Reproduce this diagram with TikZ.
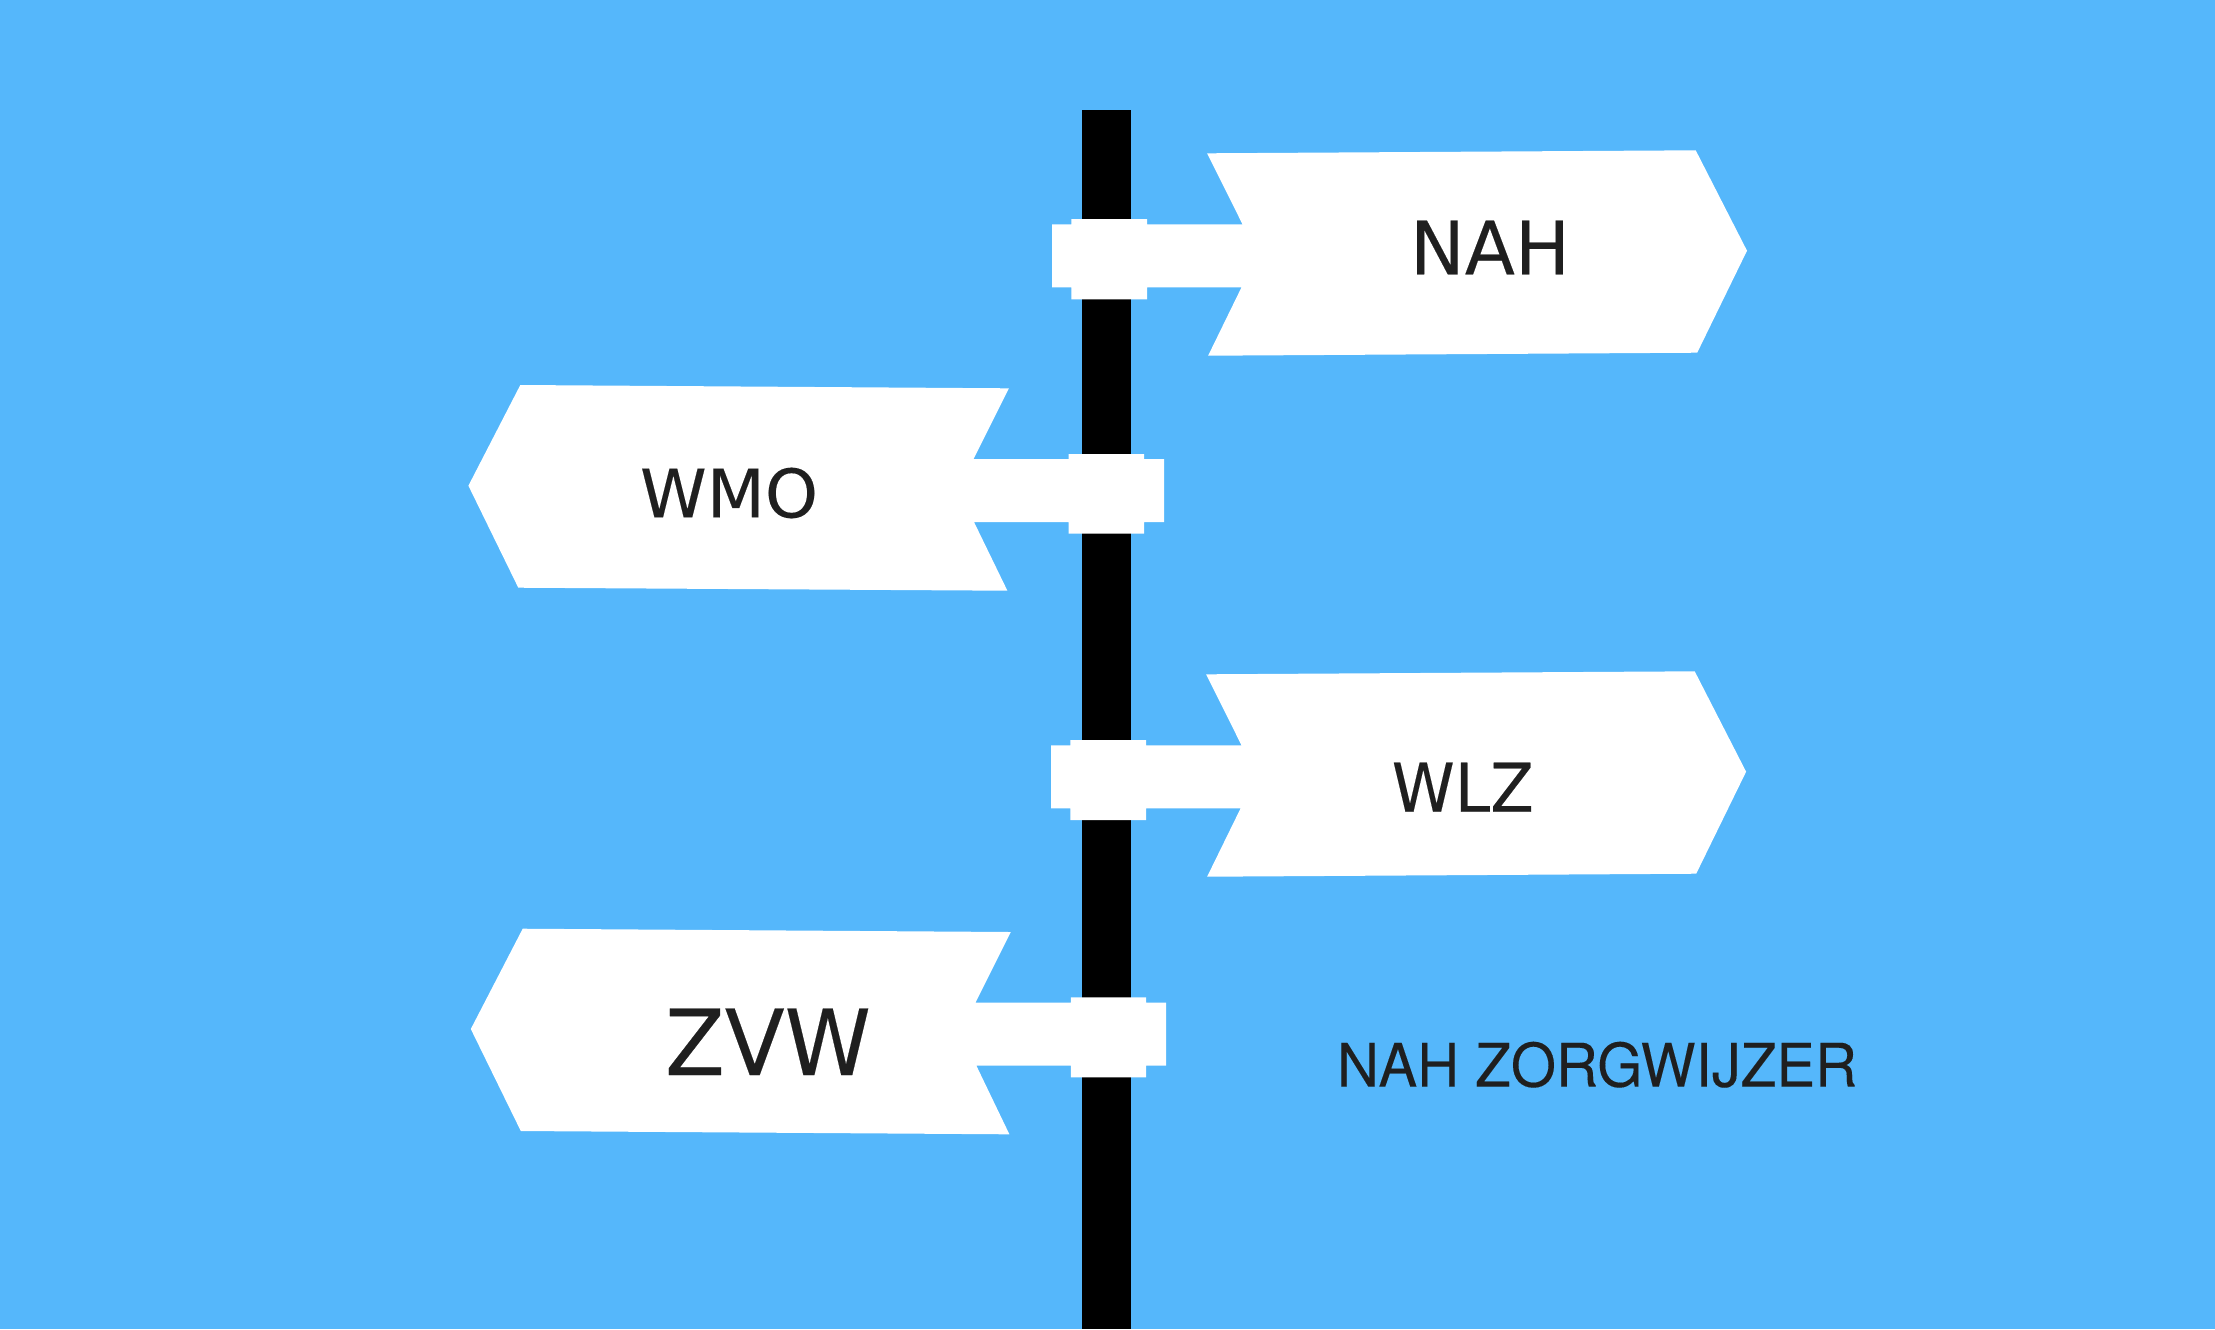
\documentclass[tikz,border=0pt]{standalone}
\usepackage{fontspec}
\usepackage{graphicx}
\setmainfont[FakeBold=0.25]{DejaVu Sans}
\newfontfamily\capfont[FakeBold=0.15]{TeX Gyre Heros}
\definecolor{skyback}{HTML}{55B7FB}
\definecolor{inkdark}{HTML}{1F1F1F}
\newcommand{\fitlabel}[3]{\resizebox*{#1pt}{#2pt}{#3}}
\tikzset{
  signshape/.style={fill=white,draw=none},
  signtext/.style={text=inkdark,inner sep=0pt,outer sep=0pt,anchor=center},
  polebar/.style={fill=black,draw=none}
}
\begin{document}
\begin{tikzpicture}[x=0.5pt,y=-0.5pt]
\useasboundingbox (0,0) rectangle (2215,1329);
\fill[skyback] (0,0) rectangle (2215,1329);
\fill[polebar] (1082,110) rectangle (1131,1329);
% NAH
\fill[signshape] (1207.1,153.3) -- (1695.7,150.3) -- (1747,250.7) -- (1697.2,352.7) -- (1208.1,355.7) -- (1241.5,287.3)
  -- (1147,287.3) -- (1147,299.3) -- (1071.4,299.3) -- (1071.4,287.3) -- (1052,287.3) -- (1052,224.3) -- (1071.4,224.3)
  -- (1071.4,219) -- (1147,219) -- (1147,224.3) -- (1242.5,224.3) -- cycle;
% WMO
\fill[signshape] (520.3,385) -- (1008.9,388.3) -- (973.5,459) -- (1068.5,459) -- (1068.5,454) -- (1144.1,454) -- (1144.1,459)
  -- (1164,459) -- (1164,522) -- (1144.1,522) -- (1144.1,533.7) -- (1068.5,533.7) -- (1068.5,522) -- (974,522)
  -- (1007.4,590.7) -- (518.3,587.7) -- (468.4,485.7) -- cycle;
% WLZ
\fill[signshape] (1206.1,674.3) -- (1694.7,671.3) -- (1746.1,771.7) -- (1696.2,873.7) -- (1207.1,876.7) -- (1240.6,808.3)
  -- (1146,808.3) -- (1146,820) -- (1070.4,820) -- (1070.4,808.3) -- (1051,808.3) -- (1051,745.3) -- (1070.4,745.3)
  -- (1070.4,740) -- (1146,740) -- (1146,745.3) -- (1241.5,745.3) -- cycle;
% ZVW
\fill[signshape] (522.7,928.7) -- (1010.8,932) -- (975.5,1002.7) -- (1070.9,1002.7) -- (1070.9,997.3) -- (1146,997.3) -- (1146,1002.7)
  -- (1166,1002.7) -- (1166,1065.7) -- (1146,1065.7) -- (1146,1077.3) -- (1070.9,1077.3) -- (1070.9,1065.7) -- (976.4,1065.7)
  -- (1009.4,1134.3) -- (520.8,1131) -- (470.8,1029) -- cycle;
\node[signtext] (nah) at (1490,247.5) {\fitlabel{80}{26.8}{NAH}};
\node[signtext] (wmo) at (729,493) {\fitlabel{89}{25.3}{WMO}};
\node[signtext] (wlz) at (1462.8,787.2) {\fitlabel{71}{24.5}{WLZ}};
\node[signtext] (zvw) at (768,1041.8) {\fitlabel{103}{33.2}{ZVW}};
\node[signtext] (title) at (1597,1064.7) {\fitlabel{260}{23}{\capfont NAH ZORGWIJZER}};
\end{tikzpicture}
\end{document}
